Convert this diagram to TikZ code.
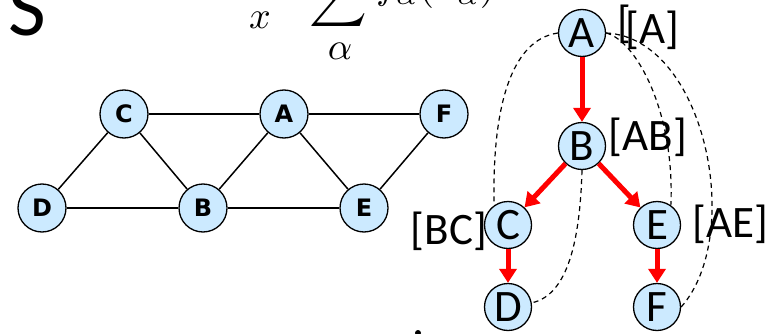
\documentclass[tikz,border=0pt]{standalone}
\usepackage{fontspec}
\setmainfont{Carlito}
\newfontfamily\gfont{DejaVu Sans}
\usetikzlibrary{arrows.meta}
\definecolor{nodefill}{RGB}{204,234,255}
\begin{document}
\begin{tikzpicture}[x=1pt,y=-1pt,
  gnode/.style={circle,draw,line width=1.3pt,fill=nodefill,minimum size=48pt,inner sep=0pt,font=\gfont\bfseries\fontsize{24}{28}\selectfont},
  tnode/.style={circle,draw,line width=1.3pt,fill=nodefill,minimum size=47pt,inner sep=0pt,font=\fontsize{45}{50}\selectfont},
  gedge/.style={line width=1.5pt},
  gedgethick/.style={line width=2.5pt},
  tarrow/.style={red,line width=5pt,-{Triangle[width=17pt,length=14pt]}},
  dcurve/.style={line width=1.2pt,dash pattern=on 5pt off 4pt},
  lbl/.style={inner sep=0pt,font=\fontsize{45}{50}\selectfont},
  mth/.style={inner sep=0pt}]
\useasboundingbox (0,0) rectangle (783,334);
\clip (0,0) rectangle (783,334);
% top fragments
\node[inner sep=0pt,anchor=base west,font=\fontsize{82}{90}\selectfont] (S) at (8,36) {S};
\node[mth] (subx) at (260,20) {\scalebox{3.8}{$x$}};
\node[mth,anchor=south] (sum) at (338,31) {\scalebox{4}{$\displaystyle\sum$}};
\node[mth] (al) at (340,51) {\scalebox{3.8}{$\alpha$}};
\node[mth,anchor=base west] (fa) at (376,-1) {\scalebox{4}{$f_\alpha(x_\alpha)$}};
\fill (418,333) circle (3pt);
% left graph
\node[gnode] (gC) at (124,114) {C};
\node[gnode] (gA) at (284,114) {A};
\node[gnode] (gF) at (444,114) {F};
\node[gnode] (gD) at (42,208) {D};
\node[gnode] (gB) at (203,208) {B};
\node[gnode] (gE) at (364,208) {E};
\draw[gedge] (gC) -- (gA);
\draw[gedgethick] (gA) -- (gF);
\draw[gedge] (gC) -- (gD);
\draw[gedge] (gC) -- (gB);
\draw[gedge] (gA) -- (gB);
\draw[gedge] (gA) -- (gE);
\draw[gedge] (gF) -- (gE);
\draw[gedge] (gD) -- (gB);
\draw[gedgethick] (gB) -- (gE);
% tree
\node[tnode] (A) at (582,33) {A};
\node[tnode] (B) at (582,146) {B};
\node[tnode] (C) at (508,225) {C};
\node[tnode] (E) at (657,225) {E};
\node[tnode] (D) at (508,307) {D};
\node[tnode] (F) at (657,307) {F};
\node[lbl] (s1) at (624,24) {[};
\node[lbl] (lA) at (652,30) {[A]};
\node[lbl] (lAB) at (648,137) {[AB]};
\node[lbl] (lBC) at (449,231) {[BC]};
\node[lbl] (lAE) at (730,224) {[AE]};
\draw[tarrow] (A) -- (B);
\draw[tarrow] (B) -- (C);
\draw[tarrow] (B) -- (E);
\draw[tarrow] (C) -- (D);
\draw[tarrow] (E) -- (F);
\draw[dcurve] (A.west) .. controls (510,40) and (492,110) .. (C.125);
\draw[dcurve] (A.east) .. controls (635,40) and (675,110) .. (E.55);
\draw[dcurve] (A.east) .. controls (705,38) and (745,235) .. (F.east);
\draw[dcurve] (B.south) .. controls (580,240) and (568,295) .. (D.10);
\end{tikzpicture}
\end{document}
